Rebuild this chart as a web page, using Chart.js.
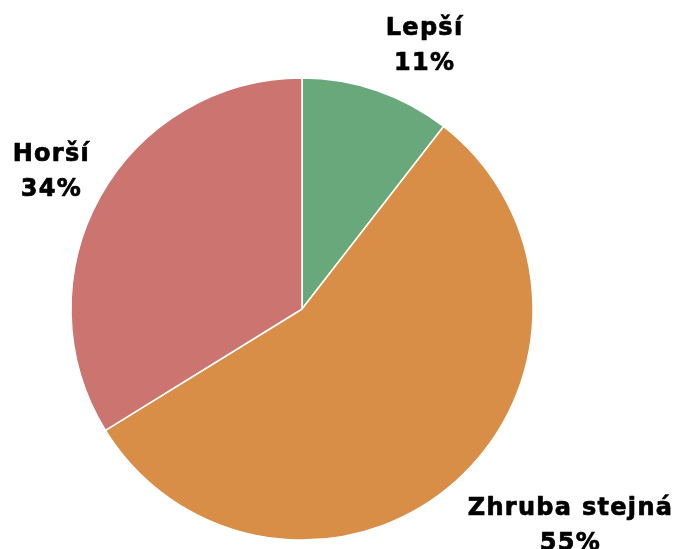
<!DOCTYPE html>
<html>
<head>
<meta charset="utf-8">
<script src="https://cdn.jsdelivr.net/npm/chart.js@4.4.1/dist/chart.umd.min.js"></script>
<style>
  html, body { margin: 0; padding: 0; background: #ffffff; }
  #wrap { width: 674px; height: 549px; position: relative; }
</style>
</head>
<body>
<div id="wrap"><canvas id="c" width="674" height="549"></canvas></div>
<script>
const categories = ["Lepší", "Zhruba stejná", "Horší"];
const values = [10.5, 55.7, 33.8];
const valueLabels = ["11%", "55%", "34%"];
const colors = ["#68A87A", "#D98E48", "#CC7470"];

const labelOffsets = [[28, 9], [74, -1], [2, 2]];

const labelPlugin = {
  id: 'sliceLabels',
  afterDatasetsDraw(chart) {
    const ctx = chart.ctx;
    const meta = chart.getDatasetMeta(0);
    ctx.save();
    ctx.font = 'bold 24px "DejaVu Sans", Verdana, sans-serif';
    ctx.letterSpacing = '1.3px';
    ctx.fillStyle = '#000000';
    ctx.strokeStyle = '#000000';
    ctx.lineWidth = 0.7;
    ctx.lineJoin = 'round';
    ctx.textAlign = 'center';
    ctx.textBaseline = 'alphabetic';
    meta.data.forEach((arc, i) => {
      const p = arc.getProps(['x', 'y', 'startAngle', 'endAngle', 'outerRadius'], true);
      const mid = (p.startAngle + p.endAngle) / 2;
      const r = p.outerRadius + 59;
      const cx = p.x + r * Math.cos(mid) + labelOffsets[i][0];
      const cy = p.y + r * Math.sin(mid) + labelOffsets[i][1];
      [categories[i], valueLabels[i]].forEach((t, k) => {
        const y = cy - 8.5 + k * 35;
        ctx.fillText(t, cx + 0.65, y);
        ctx.strokeText(t, cx + 0.65, y);
      });
    });
    ctx.restore();
  }
};

new Chart(document.getElementById('c'), {
  type: 'pie',
  data: {
    labels: categories,
    datasets: [{
      data: values,
      backgroundColor: colors,
      borderColor: '#ffffff',
      borderWidth: 1.5
    }]
  },
  options: {
    responsive: false,
    animation: false,
    radius: 231,
    layout: { padding: { left: 0, right: 70, top: 69, bottom: 0 } },
    plugins: {
      legend: { display: false },
      tooltip: { enabled: false }
    }
  },
  plugins: [labelPlugin]
});
</script>
</body>
</html>
